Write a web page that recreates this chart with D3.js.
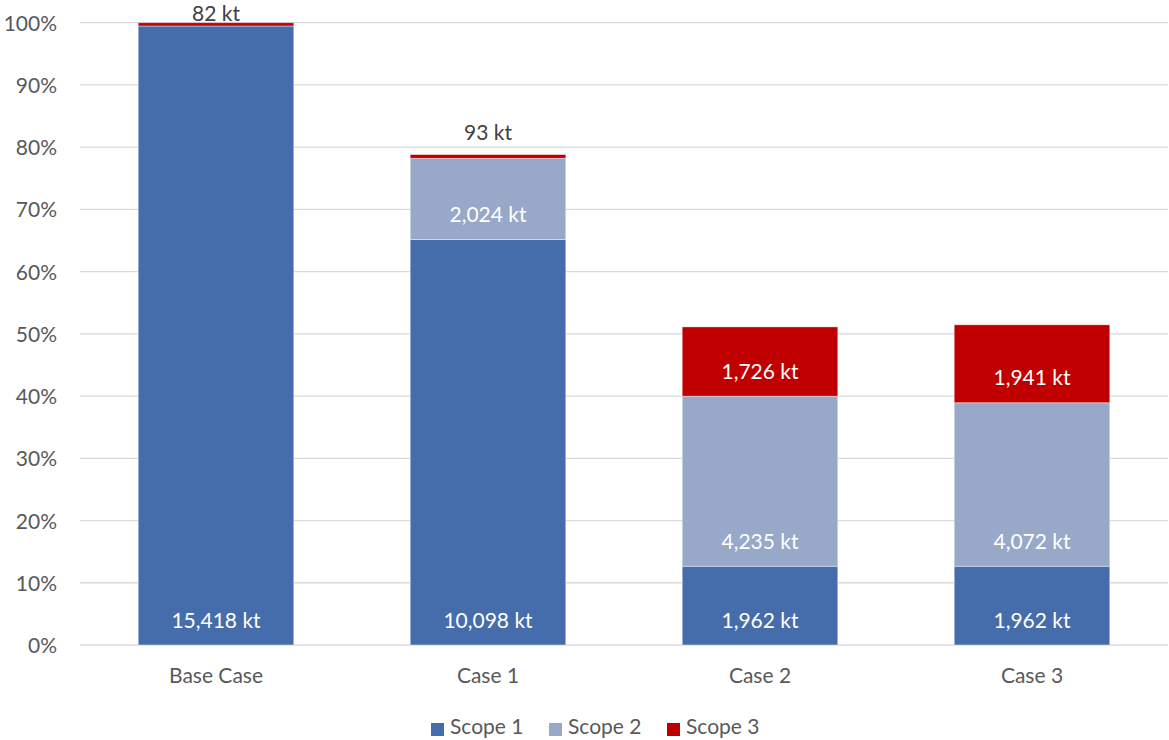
<!DOCTYPE html>
<html>
<head>
<meta charset="utf-8">
<script src="https://cdn.jsdelivr.net/npm/d3@7"></script>
<style>
  body { margin: 0; background: #fff; }
  svg { font-family: Lato, "Open Sans", sans-serif; }
  .tick text { fill: #595959; font-size: 21px; font-family: Lato, "Open Sans", sans-serif; }
</style>
</head>
<body>
<svg width="1169" height="740"></svg>
<script>
// emissions by case, kt
const cases = ['Base Case', 'Case 1', 'Case 2', 'Case 3']
const scope1 = [15418, 10098, 1962, 1962]
const scope2 = [0, 2024, 4235, 4072]
const scope3 = [82, 93, 1726, 1941]
const seriesNames = ['Scope 1', 'Scope 2', 'Scope 3']
const colors = ['#466DAB', '#97A8C9', '#C00000']
const yTicks = [0, 0.1, 0.2, 0.3, 0.4, 0.5, 0.6, 0.7, 0.8, 0.9, 1]

const width = 1169
const height = 740
const margin = {top: 22.7, right: 1, bottom: 95, left: 80}

const svg = d3.select('svg')

const rows = cases.map((c, i) => ({case: c, 'Scope 1': scope1[i], 'Scope 2': scope2[i], 'Scope 3': scope3[i]}))
// percentages are relative to base case total
const baseTotal = scope1[0] + scope2[0] + scope3[0]

const stack = d3.stack().keys(seriesNames)
const layers = stack(rows)

const x = d3.scaleBand()
    .domain(cases)
    .range([margin.left, width - margin.right])
    .paddingInner(0.428)
    .paddingOuter(0.214)

const y = d3.scaleLinear()
    .domain([0, baseTotal])
    .range([645, margin.top])

// gridlines
svg.append('g')
    .selectAll('line')
    .data(yTicks)
    .enter().append('line')
    .attr('x1', margin.left)
    .attr('x2', width - margin.right)
    .attr('y1', d => y(d * baseTotal))
    .attr('y2', d => y(d * baseTotal))
    .attr('stroke', '#D9D9D9')
    .attr('stroke-width', 1.3)

// y axis labels
const yAxis = d3.axisLeft(y)
    .tickValues(yTicks.map(d => d * baseTotal))
    .tickFormat(d => Math.round(d / baseTotal * 100) + '%')
    .tickSize(0)
    .tickPadding(0)

svg.append('g')
    .attr('transform', 'translate(57,0)')
    .call(yAxis)
    .call(g => g.select('.domain').remove())
    .selectAll('text').attr('dy', '0.36em')

// x axis labels
const xAxis = d3.axisBottom(x).tickSize(0).tickPadding(0)
svg.append('g')
    .attr('transform', 'translate(0,668)')
    .call(xAxis)
    .call(g => g.select('.domain').remove())
    .selectAll('text').attr('dy', '0.71em')

// bars
const layer = svg.append('g')
    .selectAll('g')
    .data(layers)
    .enter().append('g')
    .attr('fill', (d, i) => colors[i])

layer.selectAll('rect')
    .data(d => d.filter(s => s[1] - s[0] > 0))
    .enter().append('rect')
    .attr('x', d => x(d.data.case))
    .attr('width', x.bandwidth())
    .attr('y', d => y(d[1]))
    .attr('height', d => y(d[0]) - y(d[1]))
    .attr('stroke', '#fff')
    .attr('stroke-opacity', 0.5)
    .attr('stroke-width', 0.8)

// data labels
const fmt = d3.format(',')
layers.forEach(l => {
    l.forEach(s => {
        const v = s[1] - s[0]
        if (v <= 0) return
        const h = y(s[0]) - y(s[1])
        const small = h < 20
        svg.append('text')
            .attr('x', x(s.data.case) + x.bandwidth() / 2)
            .attr('y', small ? Math.max(y(s[1]) - 22, 13) : y(s[0]) - 25)
            .attr('dy', '0.36em')
            .attr('text-anchor', 'middle')
            .attr('font-size', 21)
            .attr('fill', small ? '#404040' : '#fff')
            .text(fmt(v) + ' kt')
    })
})

// legend
const legendX = [431, 549, 667]
const legend = svg.append('g')
    .selectAll('g')
    .data(seriesNames)
    .enter().append('g')
    .attr('transform', (d, i) => `translate(${legendX[i]},723)`)

legend.append('rect')
    .attr('width', 13)
    .attr('height', 13)
    .attr('fill', (d, i) => colors[i])

legend.append('text')
    .attr('x', 19)
    .attr('y', 11)
    .attr('font-size', 21)
    .attr('fill', '#595959')
    .text(d => d)
</script>
</body>
</html>
